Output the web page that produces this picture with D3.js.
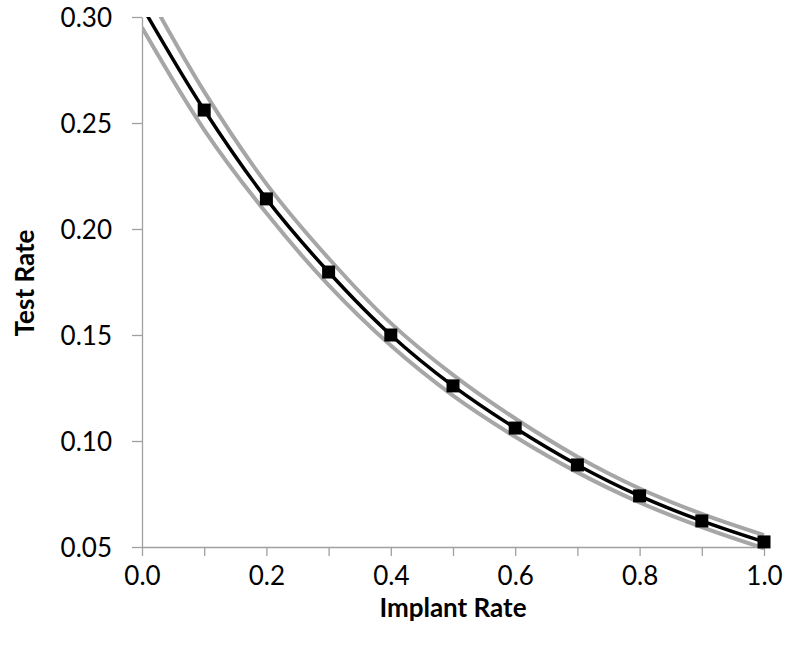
<!DOCTYPE html>
<html>
<head>
  <meta charset="utf-8">
  <script src="https://d3js.org/d3.v7.min.js"></script>
  <style>
    body { margin: 0; background: #fff; font-family: 'Lato', 'Open Sans', sans-serif; }
    .tick text { font-family: 'Lato', sans-serif; font-size: 26px; fill: #000; }
    .axis path, .axis line { stroke: #a0a0a0; stroke-width: 1.3px; }
    .title { font-family: 'Lato', sans-serif; font-size: 26px; font-weight: bold; }
  </style>
</head>
<body>
<script>
  // values
  var implantRate = [0.0, 0.1, 0.2, 0.3, 0.4, 0.5, 0.6, 0.7, 0.8, 0.9, 1.0];
  var testRate    = [0.305, 0.2561, 0.2142, 0.1797, 0.1500, 0.1260, 0.1061, 0.0887, 0.0741, 0.0623, 0.0524];
  var upperRate   = [0.316, 0.2648, 0.2213, 0.1862, 0.1556, 0.1312, 0.1106, 0.0926, 0.0776, 0.0656, 0.0556];
  var lowerRate   = [0.295, 0.2468, 0.2075, 0.1735, 0.1450, 0.1214, 0.1020, 0.0852, 0.0710, 0.0594, 0.0494];
  var xTicks = [0, 0.1, 0.2, 0.3, 0.4, 0.5, 0.6, 0.7, 0.8, 0.9, 1.0];
  var xLabels = [0, 0.2, 0.4, 0.6, 0.8, 1.0];
  var yTicks = [0.05, 0.10, 0.15, 0.20, 0.25, 0.30];

  var width = 788, height = 648;
  var plotLeft = 142, plotRight = 764, plotTop = 17, plotBottom = 547;

  var svg = d3.select("body").append("svg")
      .attr("width", width)
      .attr("height", height);

  var x = d3.scaleLinear().domain([0, 1]).range([plotLeft, plotRight]);
  var y = d3.scaleLinear().domain([0.05, 0.30]).range([plotBottom, plotTop]);

  //clip for the lines going above 0.30
  svg.append("clipPath").attr("id", "plot")
    .append("rect")
      .attr("x", plotLeft).attr("y", plotTop)
      .attr("width", plotRight - plotLeft + 20).attr("height", plotBottom - plotTop + 20);

  //axes
  var xAxis = d3.axisBottom(x).tickValues(xTicks).tickSize(9).tickSizeOuter(0)
      .tickFormat(function(d) { return xLabels.some(function(v) { return Math.abs(v - d) < 1e-9; }) ? d3.format(".1f")(d) : ""; });
  svg.append("g").attr("class", "axis")
      .attr("transform", "translate(0," + plotBottom + ")")
      .call(xAxis)
      .call(function(g) { g.selectAll(".tick text").attr("y", 38).attr("dy", "0"); });

  var yAxis = d3.axisLeft(y).tickValues(yTicks).tickSize(10).tickSizeOuter(0)
      .tickFormat(d3.format(".2f"));
  svg.append("g").attr("class", "axis")
      .attr("transform", "translate(" + plotLeft + ",0)")
      .call(yAxis)
      .call(function(g) { g.selectAll(".tick text").attr("x", -30).attr("dy", "0.36em"); });

  //titles
  svg.append("text").attr("class", "title")
      .attr("x", 453).attr("y", 617)
      .attr("text-anchor", "middle")
      .text("Implant Rate");

  svg.append("text").attr("class", "title")
      .attr("transform", "translate(34," + 283 + ") rotate(-90)")
      .attr("text-anchor", "middle")
      .text("Test Rate");

  //lines
  function makeLine(vals) {
    return d3.line()
      .x(function(d, i) { return x(implantRate[i]); })
      .y(function(d) { return y(d); })
      .curve(d3.curveCatmullRom.alpha(0.5))(vals);
  }

  var plot = svg.append("g").attr("clip-path", "url(#plot)");

  [upperRate, lowerRate].forEach(function(vals) {
    plot.append("path")
      .attr("d", makeLine(vals))
      .attr("fill", "none")
      .attr("stroke", "#a6a6a6")
      .attr("stroke-width", 4);
  });

  plot.append("path")
    .attr("d", makeLine(testRate))
    .attr("fill", "none")
    .attr("stroke", "#000")
    .attr("stroke-width", 3.5);

  //markers (no marker at 0.0)
  svg.selectAll(".marker")
    .data(testRate.slice(1))
    .enter().append("rect")
      .attr("class", "marker")
      .attr("x", function(d, i) { return x(implantRate[i + 1]) - 6.5; })
      .attr("y", function(d) { return y(d) - 6.5; })
      .attr("width", 13)
      .attr("height", 13)
      .attr("fill", "#000");
</script>
</body>
</html>
